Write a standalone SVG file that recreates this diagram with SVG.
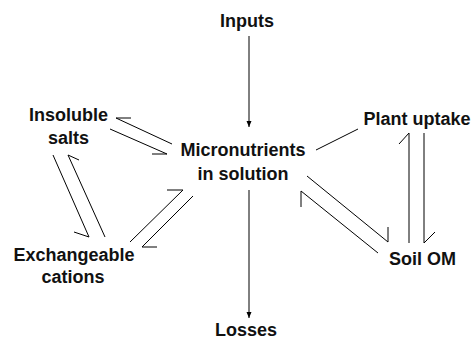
<svg xmlns="http://www.w3.org/2000/svg" width="473" height="339" viewBox="0 0 473 339">
<style>
text{font-family:"Liberation Sans",Arial,sans-serif;font-weight:bold;font-size:18px;fill:#111;text-anchor:middle}
.c line,.c polyline{stroke:#000;stroke-width:1;fill:none}
</style>
<defs>
<marker id="ah" viewBox="0 0 6 6" refX="6" refY="3" markerWidth="6" markerHeight="6" markerUnits="userSpaceOnUse" orient="auto">
<path d="M0,0.5 L6,3 L0,5.5 Z" fill="#000"/>
</marker>
</defs>
<rect width="473" height="339" fill="#fff"/>
<g id="inputs"><text x="247" y="27">Inputs</text></g>
<g id="micronutrients"><text x="243" y="156">Micronutrients</text><text x="243" y="180">in solution</text></g>
<g id="insoluble"><text x="68.5" y="121">Insoluble</text><text x="68.5" y="144">salts</text></g>
<g id="exchangeable"><text x="74" y="261">Exchangeable</text><text x="73" y="283">cations</text></g>
<g id="plant"><text x="417" y="125">Plant uptake</text></g>
<g id="soilom"><text x="422.5" y="265">Soil OM</text></g>
<g id="losses"><text x="246" y="336">Losses</text></g>
<g class="c" id="connectors">
<line x1="249" y1="36" x2="249" y2="127" marker-end="url(#ah)"/>
<line x1="249" y1="190" x2="249" y2="318" marker-end="url(#ah)"/>
<polyline points="172,144 116,118 131,118"/>
<polyline points="110,129 167,154 152,154"/>
<polyline points="53,155 89,237 74,232"/>
<polyline points="105,237 68,155 79,160"/>
<polyline points="130,242 183,190 167,190"/>
<polyline points="193,196 142,247 157,247"/>
<line x1="316" y1="150" x2="358" y2="129"/>
<polyline points="409,243 409,133 399,144"/>
<polyline points="424,133 424,243 435,232"/>
<polyline points="307,176 388,242 388,227"/>
<polyline points="378,253 301,191 301,207"/>
</g>
</svg>
